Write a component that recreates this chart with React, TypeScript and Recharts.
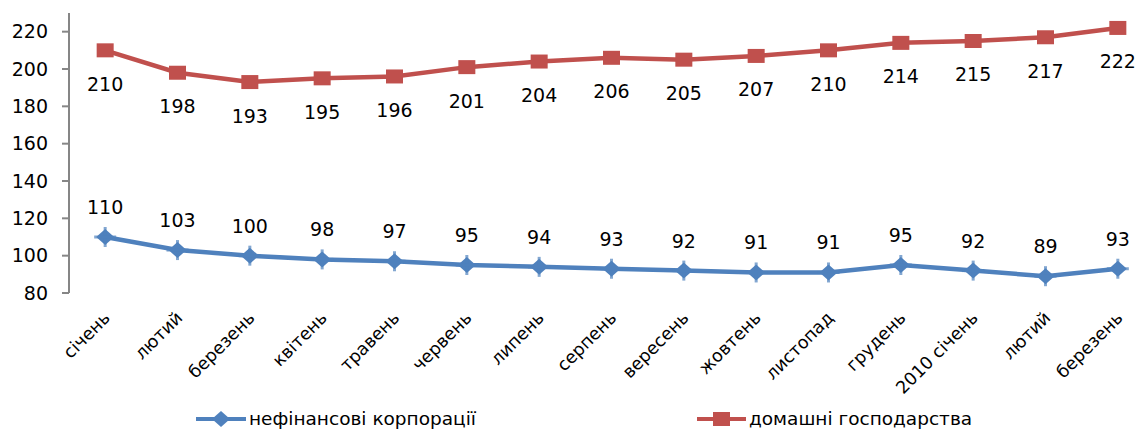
import React from 'react';
import { LineChart, Line, XAxis, YAxis, LabelList, Legend } from 'recharts';

const months = [
  'січень', 'лютий', 'березень', 'квітень', 'травень', 'червень', 'липень', 'серпень',
  'вересень', 'жовтень', 'листопад', 'грудень', '2010 січень', 'лютий', 'березень',
];
const corporations = [110, 103, 100, 98, 97, 95, 94, 93, 92, 91, 91, 95, 92, 89, 93];
const households = [210, 198, 193, 195, 196, 201, 204, 206, 205, 207, 210, 214, 215, 217, 222];
const yTicks = [80, 100, 120, 140, 160, 180, 200, 220];

const BLUE = '#4F81BD';
const RED = '#C0504D';
const AXIS = '#868686';
const FONT = '"DejaVu Sans", sans-serif';

const data = months.map((m, i) => ({
  idx: i,
  month: m,
  corp: corporations[i],
  house: households[i],
}));
// tick marks sit between the categories, like the original
const boundaries = [...months.map((_, i) => i - 0.5), months.length - 0.5];

const Square = (props: any) => {
  const { cx, cy } = props;
  if (cx == null || cy == null) return <g key={props.key} />;
  return <rect key={props.key} x={cx - 8.5} y={cy - 7} width={17} height={14} fill={RED} />;
};

const Diamond = (props: any) => {
  const { cx, cy } = props;
  if (cx == null || cy == null) return <g key={props.key} />;
  return (
    <g key={props.key}>
      <polygon points={`${cx},${cy - 8} ${cx + 9},${cy} ${cx},${cy + 8} ${cx - 9},${cy}`} fill={BLUE} />
      <rect x={cx - 1.5} y={cy - 10} width={3} height={20} fill={BLUE} opacity={0.7} />
      <rect x={cx - 11} y={cy - 1.5} width={22} height={3} fill={BLUE} opacity={0.7} />
    </g>
  );
};

const MonthTick = (props: any) => {
  const { x, y, payload } = props;
  const tx = x + 6;
  const ty = y + 18;
  return (
    <text
      x={tx}
      y={ty}
      transform={`rotate(-45, ${tx}, ${ty})`}
      textAnchor="end"
      fontSize={17.5}
      fontFamily={FONT}
      fill="#000"
    >
      {months[payload.value]}
    </text>
  );
};

const LegendContent = () => (
  <div style={{ position: 'relative', height: 38, fontFamily: FONT, fontSize: 18.5, color: '#000' }}>
    <div style={{ position: 'absolute', left: 196, top: 15, display: 'flex', alignItems: 'center' }}>
      <svg width={50} height={20}>
        <line x1={0} y1={10} x2={50} y2={10} stroke={BLUE} strokeWidth={4} />
        <polygon points="25,2 34,10 25,18 16,10" fill={BLUE} />
      </svg>
      <span style={{ marginLeft: 3 }}>нефінансові корпорації</span>
    </div>
    <div style={{ position: 'absolute', left: 697, top: 15, display: 'flex', alignItems: 'center' }}>
      <svg width={49} height={20}>
        <line x1={0} y1={10} x2={49} y2={10} stroke={RED} strokeWidth={4} />
        <rect x={16} y={3} width={17} height={14} fill={RED} />
      </svg>
      <span style={{ marginLeft: 3 }}>домашні господарства</span>
    </div>
  </div>
);

export default function App() {
  return (
    <div
      style={{
        position: 'fixed',
        left: 0,
        top: 0,
        width: 1144,
        height: 431,
        overflow: 'hidden',
        background: '#fff',
      }}
    >
      <LineChart width={1160} height={431} data={data} margin={{ top: 13, right: 6, bottom: 0, left: 0 }}>
        <XAxis
          xAxisId="bounds"
          type="number"
          dataKey="idx"
          domain={[-0.5, months.length - 0.5]}
          ticks={boundaries}
          tick={false}
          height={0}
          stroke={AXIS}
          strokeWidth={2}
          tickSize={7}
        />
        <XAxis
          xAxisId="cat"
          type="number"
          dataKey="idx"
          domain={[-0.5, months.length - 0.5]}
          ticks={months.map((_, i) => i)}
          axisLine={false}
          tickLine={false}
          tick={<MonthTick />}
          height={100}
          interval={0}
        />
        <YAxis
          domain={[80, 230]}
          ticks={yTicks}
          width={69}
          stroke={AXIS}
          strokeWidth={2}
          tickSize={7}
          tick={{ fill: '#000', fontSize: 19, fontFamily: FONT }}
          tickMargin={14}
        />
        <Legend verticalAlign="bottom" height={38} content={<LegendContent />} />
        <Line
          xAxisId="cat"
          dataKey="house"
          stroke={RED}
          strokeWidth={4.5}
          dot={(p: any) => <Square {...p} />}
          isAnimationActive={false}
        >
          <LabelList dataKey="house" position="bottom" offset={27} fill="#000" fontSize={19} fontFamily={FONT} />
        </Line>
        <Line
          xAxisId="cat"
          dataKey="corp"
          stroke={BLUE}
          strokeWidth={4.5}
          dot={(p: any) => <Diamond {...p} />}
          isAnimationActive={false}
        >
          <LabelList dataKey="corp" position="top" offset={23} fill="#000" fontSize={19} fontFamily={FONT} />
        </Line>
      </LineChart>
    </div>
  );
}
